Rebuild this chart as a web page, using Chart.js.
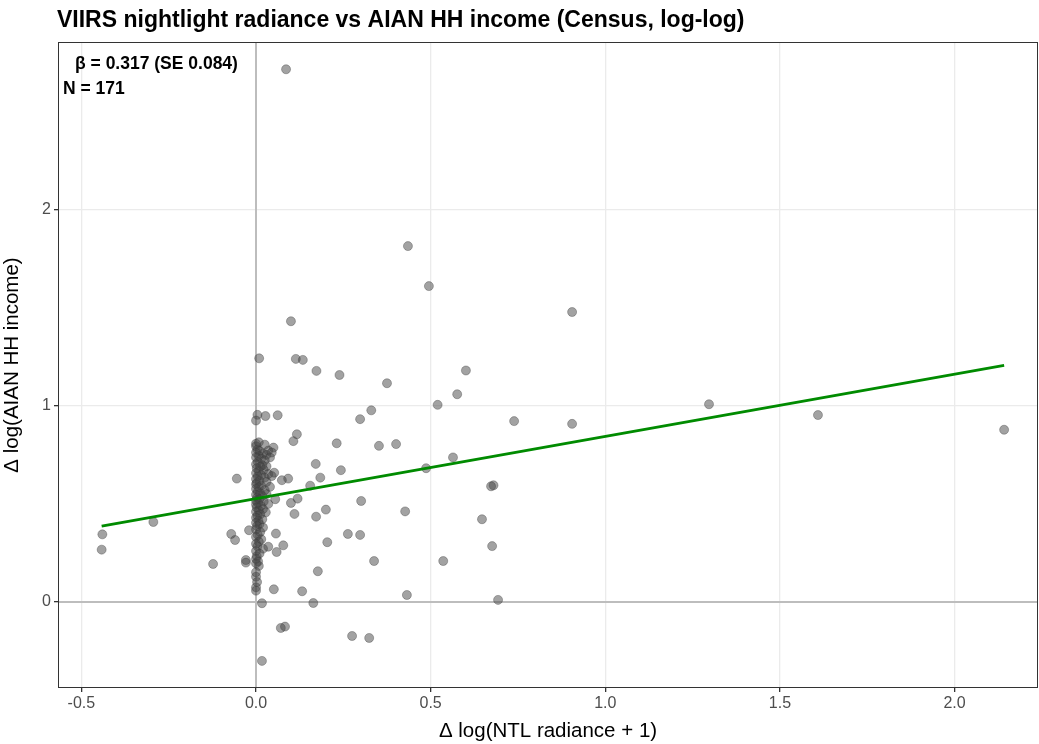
<!DOCTYPE html>
<html>
<head>
<meta charset="utf-8">
<script src="https://cdn.jsdelivr.net/npm/chart.js@4"></script>
<style>
  body { margin:0; background:#fff; }
  #wrap { width:1039px; height:744px; }
</style>
</head>
<body>
<div id="wrap"><canvas id="chart" width="1039" height="744"></canvas></div>
<script>
// Δ log(NTL radiance + 1)
const ntlChange = [
  0.086, 0.435, 0.495, 0.905, 0.100, 0.009, 0.114, 0.134, 0.173, 0.239,
  0.601, 0.375, 0.576, 0.520, 1.297, 1.609, 0.330, 0.739, 0.298, 0.905,
  2.142, 0.117, 0.107, 0.231, 0.401, 0.352, 0.171, 0.184, 0.564, 0.487,
  0.243, 0.680, 0.673, 0.301, 0.119, -0.055, 0.647, 0.427, 0.200, 0.110,
  0.172, 0.100, 0.155, 0.092, 0.074, 0.052, 0.062, 0.027, 0.004, 0.000,
  0.050, 0.035, -0.071, -0.060, -0.020, 0.057, 0.204, 0.035, 0.078, 0.059,
  -0.123, -0.029, -0.029, 0.008, 0.177, 0.000, 0.000, 0.000, 0.051, 0.132,
  0.017, 0.164, 0.432, 0.693, 0.536, 0.338, 0.298, 0.263, 0.676, 0.071,
  0.083, 0.017, 0.275, 0.324, -0.440, -0.442, -0.294, 0.055,
  // dense column near zero
  0.000, 0.004, 0.010, 0.000, 0.020, 0.045, 0.030, 0.008, 0.000, 0.015,
  0.040, 0.025, 0.005, 0.000, 0.018, 0.012, 0.030, 0.002, 0.022, 0.008,
  0.000, 0.035, 0.015, 0.005, 0.025, 0.000, 0.045, 0.010, 0.030, 0.002,
  0.000, 0.015, 0.008, 0.040, 0.000, 0.025, 0.005, 0.012, 0.000, 0.030,
  0.018, 0.003, 0.010, 0.000, 0.022, 0.006, 0.000, 0.035, 0.014, 0.002,
  0.020, 0.008, 0.000, 0.028, 0.012, 0.004, 0.000, 0.018, 0.007, 0.000,
  0.010, 0.003, 0.020, 0.000, 0.012, 0.005, 0.000, 0.015, 0.008, 0.000,
  0.004, 0.020, 0.000, 0.010, 0.002, 0.000, 0.006, 0.000, 0.000, 0.003,
  0.000, 0.008, 0.025
];
// Δ log(AIAN HH income)
const incomeChange = [
  2.713, 1.812, 1.608, 1.476, 1.429, 1.240, 1.237, 1.232, 1.176, 1.155,
  1.178, 1.113, 1.057, 1.003, 1.006, 0.951, 0.975, 0.920, 0.930, 0.906,
  0.876, 0.853, 0.818, 0.807, 0.803, 0.794, 0.702, 0.632, 0.735, 0.680,
  0.670, 0.593, 0.588, 0.513, 0.525, 0.627, 0.420, 0.460, 0.469, 0.447,
  0.433, 0.503, 0.591, 0.627, 0.619, 0.657, 0.950, 0.946, 0.952, 0.923,
  0.785, 0.770, 0.345, 0.314, 0.364, 0.347, 0.303, 0.280, 0.287, 0.253,
  0.192, 0.212, 0.199, 0.182, 0.155, 0.127, 0.073, 0.056, 0.063, 0.053,
  -0.008, -0.007, 0.034, 0.009, 0.207, 0.207, 0.340, 0.345, 0.283, -0.134,
  -0.127, -0.302, -0.175, -0.185, 0.343, 0.265, 0.406, 0.522,
  0.792, 0.775, 0.768, 0.760, 0.755, 0.760, 0.748, 0.742, 0.735, 0.728,
  0.735, 0.720, 0.712, 0.700, 0.695, 0.688, 0.690, 0.680, 0.672, 0.665,
  0.655, 0.650, 0.645, 0.638, 0.632, 0.625, 0.640, 0.615, 0.610, 0.605,
  0.598, 0.590, 0.582, 0.585, 0.575, 0.568, 0.560, 0.552, 0.545, 0.548,
  0.538, 0.530, 0.522, 0.515, 0.510, 0.502, 0.495, 0.498, 0.488, 0.480,
  0.472, 0.465, 0.458, 0.455, 0.445, 0.438, 0.428, 0.420, 0.412, 0.402,
  0.395, 0.385, 0.378, 0.368, 0.355, 0.340, 0.330, 0.318, 0.305, 0.295,
  0.282, 0.270, 0.258, 0.245, 0.232, 0.218, 0.205, 0.195, 0.150, 0.100,
  0.805, 0.812, 0.800
];
// OLS fit endpoints (beta 0.317)
const fitX = [-0.442, 2.142];
const fitY = [0.385, 1.204];
const xTicks = [-0.5, 0, 0.5, 1, 1.5, 2];
const yTicks = [0, 1, 2];

const points = ntlChange.map((x,i)=>({x:x, y:incomeChange[i]}));
const fitLine = fitX.map((x,i)=>({x:x, y:fitY[i]}));

const FONT = "'Liberation Sans', Arial, sans-serif";

// frame, zero lines, title, annotation
const decor = {
  id: 'decor',
  beforeDatasetsDraw(chart) {
    const {ctx, chartArea:a, scales} = chart;
    ctx.save();
    ctx.strokeStyle = '#bdbdbd';
    ctx.lineWidth = 2;
    const x0 = Math.round(scales.x.getPixelForValue(0));
    const y0 = Math.round(scales.y.getPixelForValue(0));
    ctx.beginPath();
    ctx.moveTo(x0, a.top); ctx.lineTo(x0, a.bottom);
    ctx.moveTo(a.left, y0); ctx.lineTo(a.right, y0);
    ctx.stroke();
    ctx.restore();
  },
  afterDraw(chart) {
    const {ctx, chartArea:a} = chart;
    ctx.save();
    ctx.strokeStyle = '#333';
    ctx.lineWidth = 1;
    ctx.strokeRect(a.left+0.5, a.top+0.5, a.right-a.left-1, a.bottom-a.top-1);
    ctx.fillStyle = '#000';
    ctx.textBaseline = 'alphabetic';
    ctx.font = "bold 23px " + FONT;
    ctx.fillText("VIIRS nightlight radiance vs AIAN HH income (Census, log-log)", 57, 27);
    ctx.font = "bold 17.5px " + FONT;
    ctx.fillText("β = 0.317 (SE 0.084)", a.left+17, 69);
    ctx.fillText("N = 171", a.left+5, 94);
    ctx.restore();
  }
};

new Chart(document.getElementById("chart"), {
  type: 'scatter',
  data: {
    datasets: [{
      data: points,
      backgroundColor: 'rgba(70,70,70,0.5)',
      borderColor: 'rgba(60,60,60,0.45)',
      borderWidth: 0.8,
      pointRadius: 4.5,
      order: 2
    }, {
      type: 'line',
      data: fitLine,
      borderColor: '#008B00',
      borderWidth: 3,
      pointRadius: 0,
      fill: false,
      order: 1
    }]
  },
  options: {
    responsive: false,
    animation: false,
    layout: { autoPadding: false, padding: { top: 42, right: 1, left: 0, bottom: 0 } },
    plugins: { legend: { display: false }, tooltip: { enabled: false } },
    scales: {
      x: {
        type: 'linear',
        min: -0.567, max: 2.239,
        afterBuildTicks: s => { s.ticks = xTicks.map(v=>({value:v})); },
        afterFit: s => { s.height = 56; s.paddingLeft = 0; s.paddingRight = 0; },
        ticks: { color: '#4d4d4d', font: { family: FONT, size: 16 }, padding: 2,
                 callback: v => v.toFixed(1) },
        grid: { color: '#ebebeb', lineWidth: 1.3, tickColor: '#333', tickLength: 4 },
        border: { display: false },
        title: { display: true, text: 'Δ log(NTL radiance + 1)', color: '#000',
                 font: { family: FONT, size: 20.5 }, padding: { top: 2, bottom: 0 } }
      },
      y: {
        type: 'linear',
        min: -0.44, max: 2.852,
        afterBuildTicks: s => { s.ticks = yTicks.map(v=>({value:v})); },
        afterFit: s => { s.width = 58; s.paddingTop = 0; s.paddingBottom = 0; },
        ticks: { color: '#4d4d4d', font: { family: FONT, size: 16 }, padding: 3,
                 callback: v => String(v) },
        grid: { color: '#ebebeb', lineWidth: 1.3, tickColor: '#333', tickLength: 4 },
        border: { display: false },
        title: { display: true, text: 'Δ log(AIAN HH income)', color: '#000',
                 font: { family: FONT, size: 20.5 }, padding: { top: 0, bottom: 6 } }
      }
    }
  },
  plugins: [decor]
});
</script>
</body>
</html>
